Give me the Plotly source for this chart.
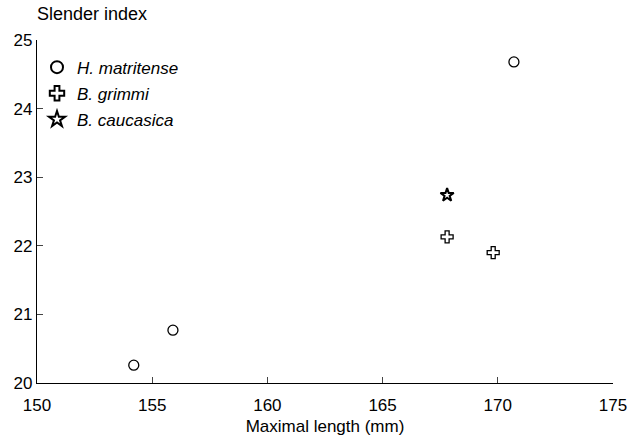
import plotly.graph_objects as go

hm_x = [154.2, 155.9, 170.7]
hm_y = [20.26, 20.77, 24.68]
bg_x = [167.8, 169.8]
bg_y = [22.13, 21.9]
bc_x = [167.8]
bc_y = [22.74]

x_ticks = [150, 155, 160, 165, 170, 175]
y_ticks = [20, 21, 22, 23, 24, 25]

FONT = "Liberation Sans, Arial, sans-serif"

fig = go.Figure()
fig.add_trace(go.Scatter(x=hm_x, y=hm_y, mode="markers", name="<i>H. matritense</i>", legendgroup="a",
                         marker=dict(symbol="circle-open", size=10, color="black", line=dict(width=1.3))))
fig.add_trace(go.Scatter(x=bg_x, y=bg_y, mode="markers", name="<i>B. grimmi</i>", legendgroup="b",
                         marker=dict(symbol="cross-open", size=10, color="black", line=dict(width=1.3))))
fig.add_trace(go.Scatter(x=bc_x, y=bc_y, mode="markers", name="<i>B. caucasica</i>", legendgroup="c",
                         marker=dict(symbol="star-open", size=10, color="black", line=dict(width=2))))

fig.update_layout(
    width=632, height=440,
    margin=dict(l=37, r=19, t=40, b=57, autoexpand=False),
    paper_bgcolor="white", plot_bgcolor="white",
    font=dict(family=FONT, size=17, color="black"),
    showlegend=True,
    legend=dict(x=0.0, y=0.972, xanchor="left", yanchor="top",
                bgcolor="rgba(0,0,0,0)", font=dict(size=17), tracegroupgap=1,
                itemsizing="constant"),
    xaxis=dict(range=[150, 175], tickvals=x_ticks, ticks="inside", ticklen=6,
               showline=True, linecolor="black", linewidth=1.3, showgrid=False,
               zeroline=False, tickfont=dict(size=17), ticklabelstandoff=6,
               automargin=False,
               title=dict(text="Maximal length (mm)", font=dict(size=17), standoff=6)),
    yaxis=dict(range=[20, 25], tickvals=y_ticks, ticks="inside", ticklen=6,
               showline=True, linecolor="black", linewidth=1.3, showgrid=False,
               zeroline=False, tickfont=dict(size=17), automargin=False),
    annotations=[dict(text="Slender index", xref="paper", yref="paper",
                      x=-0.004, y=1.076, xanchor="left", yanchor="middle",
                      showarrow=False, font=dict(size=18))],
)
fig.write_html("out.html")
